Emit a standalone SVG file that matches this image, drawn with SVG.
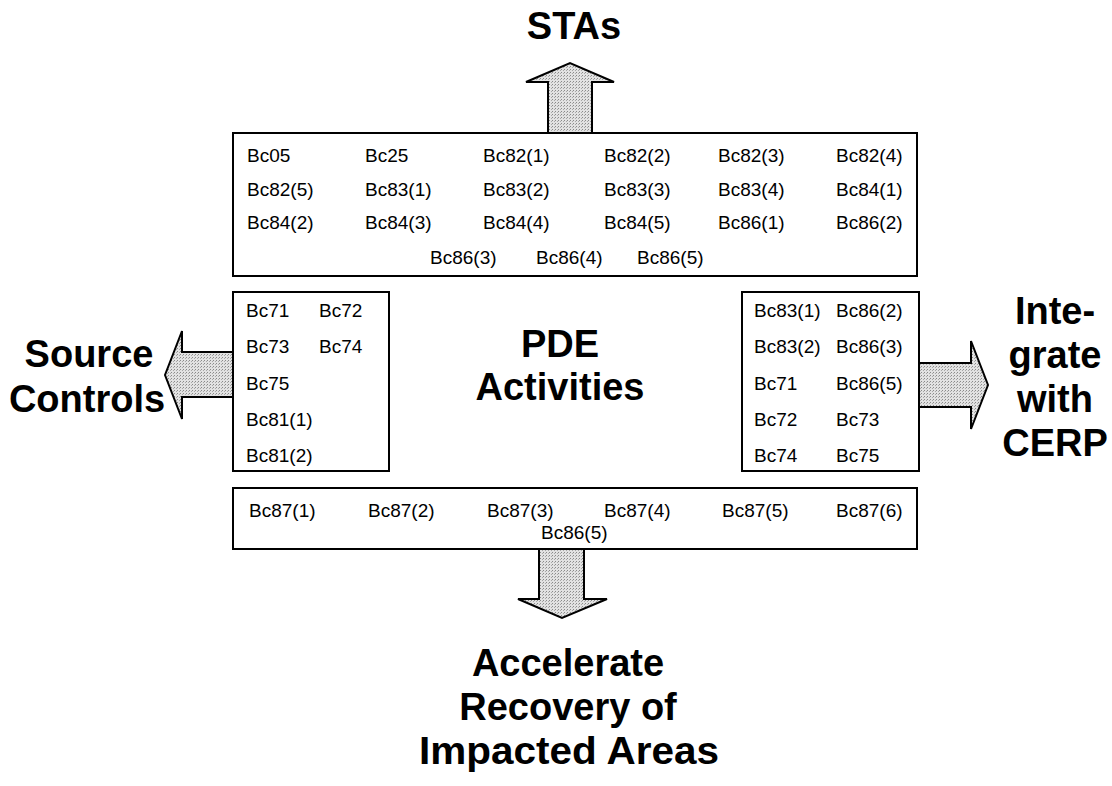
<svg xmlns="http://www.w3.org/2000/svg" width="1112" height="786" viewBox="0 0 1112 786">
<defs>
<pattern id="stip" width="3" height="3" patternUnits="userSpaceOnUse">
<rect width="3" height="3" fill="#e2e2e2"/>
<rect x="0" y="0" width="1" height="1" fill="#8a8a8a"/>
<rect x="2" y="1" width="1" height="1" fill="#a8a8a8"/>
</pattern>
</defs>
<style>
.box{fill:#fff;stroke:#000;stroke-width:2}
.arrow{fill:url(#stip);stroke:#000;stroke-width:2;stroke-linejoin:miter}
.s{font-family:"Liberation Sans",Arial,sans-serif;font-size:19px;fill:#000}
.t{font-family:"Liberation Sans",Arial,sans-serif;font-size:38px;font-weight:bold;fill:#000;text-anchor:middle}
</style>
<rect width="1112" height="786" fill="#fff"/>
<g id="connectors">
<polygon class="arrow" points="548,133 548,82 526,82 570,63 614,82 592,82 592,133"/>
<polygon class="arrow" points="233,352 182,352 182,331 165,375 182,419 182,397 233,397"/>
<polygon class="arrow" points="919,363 971,363 971,341 988,385 971,429 971,407 919,407"/>
<polygon class="arrow" points="539,549 539,599 518,599 562,618 607,599 584,599 584,549"/>
</g>
<g id="sta-box">
<rect class="box" x="233" y="133" width="684" height="143"/>
<text class="s" x="247" y="162">Bc05</text>
<text class="s" x="365" y="162">Bc25</text>
<text class="s" x="483" y="162">Bc82(1)</text>
<text class="s" x="604" y="162">Bc82(2)</text>
<text class="s" x="718" y="162">Bc82(3)</text>
<text class="s" x="836" y="162">Bc82(4)</text>
<text class="s" x="247" y="196">Bc82(5)</text>
<text class="s" x="365" y="196">Bc83(1)</text>
<text class="s" x="483" y="196">Bc83(2)</text>
<text class="s" x="604" y="196">Bc83(3)</text>
<text class="s" x="718" y="196">Bc83(4)</text>
<text class="s" x="836" y="196">Bc84(1)</text>
<text class="s" x="247" y="229">Bc84(2)</text>
<text class="s" x="365" y="229">Bc84(3)</text>
<text class="s" x="483" y="229">Bc84(4)</text>
<text class="s" x="604" y="229">Bc84(5)</text>
<text class="s" x="718" y="229">Bc86(1)</text>
<text class="s" x="836" y="229">Bc86(2)</text>
<text class="s" x="430" y="264">Bc86(3)</text>
<text class="s" x="536" y="264">Bc86(4)</text>
<text class="s" x="637" y="264">Bc86(5)</text>
</g>
<g id="source-box">
<rect class="box" x="233" y="292" width="156" height="179"/>
<text class="s" x="246" y="317">Bc71</text>
<text class="s" x="319" y="317">Bc72</text>
<text class="s" x="246" y="353">Bc73</text>
<text class="s" x="319" y="353">Bc74</text>
<text class="s" x="246" y="390">Bc75</text>
<text class="s" x="246" y="426">Bc81(1)</text>
<text class="s" x="246" y="462">Bc81(2)</text>
</g>
<g id="cerp-box">
<rect class="box" x="742" y="292" width="177" height="179"/>
<text class="s" x="754" y="317">Bc83(1)</text>
<text class="s" x="836" y="317">Bc86(2)</text>
<text class="s" x="754" y="353">Bc83(2)</text>
<text class="s" x="836" y="353">Bc86(3)</text>
<text class="s" x="754" y="390">Bc71</text>
<text class="s" x="836" y="390">Bc86(5)</text>
<text class="s" x="754" y="426">Bc72</text>
<text class="s" x="836" y="426">Bc73</text>
<text class="s" x="754" y="462">Bc74</text>
<text class="s" x="836" y="462">Bc75</text>
</g>
<g id="recovery-box">
<rect class="box" x="233" y="488" width="684" height="61"/>
<text class="s" x="249" y="517">Bc87(1)</text>
<text class="s" x="368" y="517">Bc87(2)</text>
<text class="s" x="487" y="517">Bc87(3)</text>
<text class="s" x="604" y="517">Bc87(4)</text>
<text class="s" x="722" y="517">Bc87(5)</text>
<text class="s" x="836" y="517">Bc87(6)</text>
<text class="s" x="541" y="539">Bc86(5)</text>
</g>
<g id="stas">
<text class="t" x="574" y="39">STAs</text>
</g>
<g id="pde">
<text class="t" x="560" y="357">PDE</text>
<text class="t" x="560" y="400">Activities</text>
</g>
<g id="source-controls">
<text class="t" x="89" y="367">Source</text>
<text class="t" x="87" y="412">Controls</text>
</g>
<g id="integrate">
<text class="t" x="1055" y="324">Inte-</text>
<text class="t" x="1055" y="368">grate</text>
<text class="t" x="1055" y="412">with</text>
<text class="t" x="1055" y="456">CERP</text>
</g>
<g id="accelerate">
<text class="t" x="568" y="676">Accelerate</text>
<text class="t" x="568" y="720">Recovery of</text>
<text class="t" x="569" y="764" textLength="300" lengthAdjust="spacingAndGlyphs">Impacted Areas</text>
</g>
</svg>
